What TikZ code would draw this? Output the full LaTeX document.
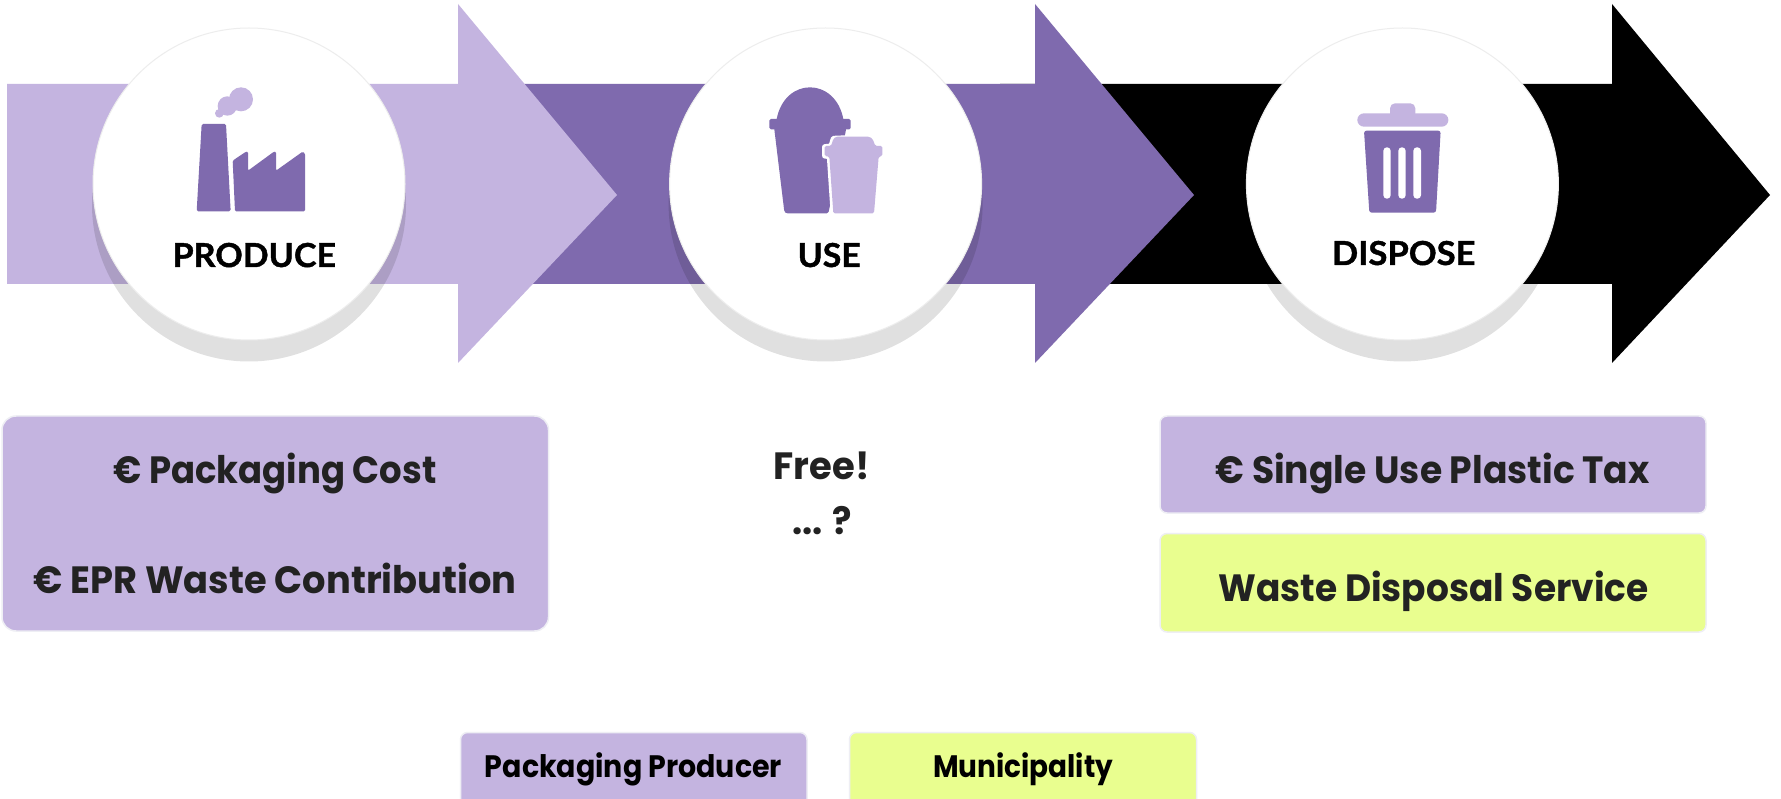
\documentclass[tikz,border=0pt]{standalone}
\usepackage{fontspec}
\setmainfont{Poppins}
\newfontfamily\stepfont{Lato}[BoldFeatures={FakeBold=1.2}]
\definecolor{lightp}{RGB}{196,180,224}
\definecolor{darkp}{RGB}{127,106,174}
\definecolor{lime}{RGB}{233,254,143}
\definecolor{ink}{RGB}{34,34,34}
\definecolor{edgeg}{RGB}{238,238,244}
\newcommand\fitw[2]{\resizebox{#1pt}{\height}{#2}}
\tikzset{
  shade2/.style={fill=black,fill opacity=.12,draw=none},
  disc/.style={fill=white,draw=black!7,line width=1pt},
  card/.style={draw=edgeg,line width=1.5pt,rounded corners=#1},
  card/.default=7pt,
  steplabel/.style={anchor=base,inner sep=0pt,font=\stepfont\bfseries\fontsize{33}{33}\selectfont,text=black},
  mainlabel/.style={anchor=base,inner sep=0pt,font=\bfseries\fontsize{38}{38}\selectfont,text=ink},
  keylabel/.style={anchor=base,inner sep=0pt,font=\bfseries\fontsize{31}{31}\selectfont,text=black},
  icon/.style={x=.33333pt,y=-.33333pt}
}
\begin{document}
\begin{tikzpicture}[x=1pt,y=-1pt]
\useasboundingbox (0,0) rectangle (1781,799);
\fill[white] (0,0) rectangle (1781,799);
% arrows, last one at the back
\fill[black] (1000,84) -- (1612,84) -- (1612,4) -- (1770,195) -- (1612,363) -- (1612,284) -- (1000,284) -- cycle;
\fill[darkp] (500,84) -- (1035,84) -- (1035,4) -- (1194,195) -- (1035,363) -- (1035,284) -- (500,284) -- cycle;
\fill[lightp] (7,84) -- (458,84) -- (458,4) -- (617,195) -- (458,363) -- (458,284) -- (7,284) -- cycle;
% discs with their shadows
\foreach \cx in {249,825.6,1402.4}{
  \fill[shade2] (\cx,204.5) circle[radius=157];
  \draw[disc] (\cx,184) circle[radius=156];
}
% factory
\begin{scope}[shift={(170,70)},icon]
  \fill[darkp,rounded corners=1.5pt] (95,162) -- (168,162) -- (182,424) -- (80,424) -- cycle;
  \fill[darkp,rounded corners=1.2pt] (188,272) -- (228,245) -- (234,245) -- (234,302) -- (312,245) -- (318,245) -- (318,302) -- (398,245) -- (405,250) -- (405,424) -- (195,424) -- cycle;
  \fill[lightp] (213,88) circle[radius=36];
  \fill[lightp] (172,108) circle[radius=29];
  \fill[lightp] (148,130) circle[radius=13];
\end{scope}
% cups
\begin{scope}[shift={(750,70)},icon]
  \fill[darkp] (80,147) .. controls (92,85) and (135,52) .. (180,52) .. controls (225,52) and (268,85) .. (280,147) -- cycle;
  \fill[darkp,rounded corners=1.5pt] (58,147) -- (302,147) -- (302,178) -- (58,178) -- cycle;
  \fill[darkp,rounded corners=1.5pt] (72,170) -- (288,170) -- (288,180) -- (235,430) -- (108,430) -- (103,425) -- cycle;
  \path[fill=white,draw=white,line width=5pt,line join=round] (224,230) -- (243,228) -- (250,205) -- (365,200) -- (376,228) -- (397,230) -- (397,258) -- (386,260) -- (372,430) -- (250,440) -- (238,260) -- (224,258) -- cycle;
  \fill[lightp,rounded corners=1.5pt] (224,228) -- (243,228) -- (250,207) -- (258,200) -- (358,200) -- (368,207) -- (376,228) -- (397,228) -- (397,258) -- (386,260) -- (372,430) -- (250,430) -- (238,260) -- (224,258) -- cycle;
\end{scope}
% bin
\begin{scope}[shift={(1340,90)},icon]
  \fill[lightp,rounded corners=5pt] (150,85) -- (150,40) -- (226,40) -- (226,85) -- cycle;
  \fill[lightp,rounded corners=6.6pt] (52,70) rectangle (325,110);
  \fill[darkp,rounded corners=2.5pt] (72,122) -- (302,122) -- (288,368) -- (88,368) -- cycle;
  \fill[white,rounded corners=3.5pt] (130,172) rectangle (152,326);
  \fill[white,rounded corners=3.5pt] (175,172) rectangle (197,326);
  \fill[white,rounded corners=3.5pt] (220,172) rectangle (243,326);
\end{scope}
% step labels
\node[steplabel] (produce) at (254.3,267) {\fitw{163.4}{PRODUCE}};
\node[steplabel] (use) at (829.2,267) {\fitw{63}{USE}};
\node[steplabel] (dispose) at (1403.7,265) {\fitw{143.5}{DISPOSE}};
% cards
\draw[card=14pt,fill=lightp] (2,416) rectangle (548.5,631);
\draw[card,fill=lightp] (1160,416) rectangle (1706,513);
\draw[card,fill=lime] (1160,533.5) rectangle (1706,632);
\draw[card,fill=lightp] (460.5,732.5) rectangle (807,812);
\draw[card,fill=lime] (849.5,732.5) rectangle (1196.5,812);
% texts
\node[mainlabel] (cost) at (275,483) {\fitw{323}{€ Packaging Cost}};
\node[mainlabel] (epr) at (275,593) {\fitw{483}{€ EPR Waste Contribution}};
\node[mainlabel] (free) at (821.5,479.5) {\fitw{96}{Free!}};
\node[mainlabel] (dots) at (822,534.5) {\fitw{60}{... ?}};
\node[mainlabel] (tax) at (1432.7,483) {\fitw{434}{€ Single Use Plastic Tax}};
\node[mainlabel] (service) at (1433.5,601) {\fitw{430}{Waste Disposal Service}};
\node[keylabel] (producer) at (633.5,777.7) {\fitw{297}{Packaging Producer}};
\node[keylabel] (muni) at (1023.2,777.7) {\fitw{180}{Municipality}};
\end{tikzpicture}
\end{document}
